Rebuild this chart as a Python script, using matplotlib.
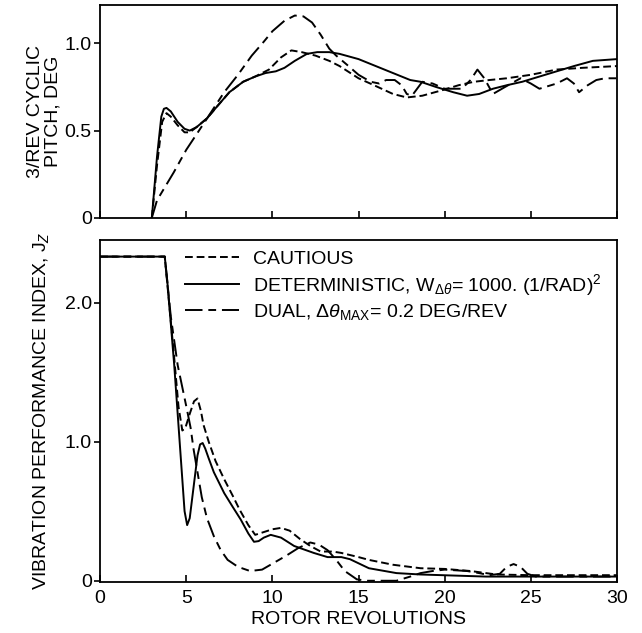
import matplotlib
matplotlib.use("Agg")
import matplotlib.pyplot as plt

plt.rcParams['font.family'] = ['Liberation Sans', 'DejaVu Sans']
plt.rcParams['mathtext.fontset'] = 'custom'
plt.rcParams['mathtext.rm'] = 'Liberation Sans'
plt.rcParams['mathtext.it'] = 'Liberation Sans:italic'

# ---- top panel: 3/rev cyclic pitch, deg ----
pitch_caut_x = [3.0, 3.3, 3.6, 3.85, 4.1, 4.5, 4.9, 5.2, 5.6, 6.2, 6.8, 7.5, 8.3, 9.0, 9.8,
                10.5, 11.1, 11.7, 12.5, 13.3, 13.9, 15.0, 15.9, 17.0, 17.8, 18.7, 19.8, 20.8,
                21.7, 22.6, 23.6, 25.0, 26.5, 28.0, 30.0]
pitch_caut_y = [0, 0.30, 0.55, 0.60, 0.58, 0.53, 0.49, 0.49, 0.52, 0.57, 0.64, 0.72, 0.78,
                0.81, 0.85, 0.92, 0.96, 0.95, 0.93, 0.90, 0.87, 0.80, 0.76, 0.71, 0.69, 0.70,
                0.73, 0.76, 0.78, 0.79, 0.80, 0.82, 0.85, 0.86, 0.87]

pitch_det_x = [3.0, 3.3, 3.55, 3.7, 3.85, 4.1, 4.5, 4.9, 5.2, 5.6, 6.2, 6.8, 7.5, 8.3, 9.0,
               9.6, 10.2, 10.7, 11.3, 12.0, 12.6, 13.3, 13.9, 15.0, 16.0, 17.0, 18.0, 18.6,
               19.5, 20.5, 21.3, 22.0, 22.8, 23.6, 24.5, 25.5, 26.5, 27.5, 28.6, 30.0]
pitch_det_y = [0, 0.35, 0.58, 0.625, 0.63, 0.61, 0.55, 0.51, 0.50, 0.52, 0.57, 0.64, 0.72,
               0.78, 0.81, 0.83, 0.84, 0.86, 0.90, 0.94, 0.95, 0.95, 0.94, 0.91, 0.87, 0.83,
               0.79, 0.78, 0.75, 0.72, 0.70, 0.71, 0.74, 0.76, 0.78, 0.81, 0.84, 0.87, 0.90,
               0.91]

pitch_dual_x = [3.0, 3.3, 4.27, 5.0, 5.94, 7.2, 8.0, 8.8, 9.5, 10.0, 10.7, 11.3, 11.8, 12.3,
                12.8, 13.3, 13.7, 14.3, 15.0, 15.7, 16.2, 16.6, 17.1, 17.5, 17.8, 18.1, 18.4,
                18.7, 19.3, 20.0, 21.0, 21.5, 21.9, 22.3, 22.8, 23.5, 24.4, 25.0, 25.5, 26.5,
                27.1, 27.5, 27.8, 28.3, 28.8, 29.3, 30.0]
pitch_dual_y = [0, 0.10, 0.26, 0.39, 0.53, 0.72, 0.82, 0.93, 1.01, 1.07, 1.13, 1.16, 1.155,
                1.12, 1.05, 0.97, 0.93, 0.88, 0.82, 0.78, 0.77, 0.79, 0.79, 0.76, 0.71, 0.70,
                0.74, 0.78, 0.77, 0.74, 0.74, 0.79, 0.85, 0.80, 0.71, 0.75, 0.80, 0.77, 0.74,
                0.77, 0.80, 0.77, 0.72, 0.76, 0.79, 0.80, 0.80]

# ---- bottom panel: vibration performance index Jz ----
jz_caut_x = [0, 3.75, 4.0, 4.3, 4.55, 4.77, 4.95, 5.2, 5.45, 5.65, 5.85, 6.0, 6.3, 6.7, 7.2,
             7.7, 8.1, 8.6, 9.0, 9.5, 10.0, 10.5, 11.0, 11.6, 12.2, 12.8, 13.5, 14.0, 15.0,
             15.6, 17.0, 18.6, 20.0, 21.5, 23.0, 25.0, 30.0]
jz_caut_y = [2.33, 2.33, 2.0, 1.6, 1.25, 1.08, 1.10, 1.20, 1.29, 1.31, 1.22, 1.12, 1.0, 0.86,
             0.73, 0.61, 0.51, 0.40, 0.33, 0.35, 0.37, 0.38, 0.36, 0.30, 0.25, 0.21, 0.21,
             0.20, 0.17, 0.15, 0.115, 0.09, 0.085, 0.07, 0.045, 0.04, 0.04]

jz_det_x = [0, 3.75, 3.9, 4.1, 4.3, 4.5, 4.7, 4.9, 5.05, 5.2, 5.43, 5.65, 5.8, 5.95, 6.1,
            6.3, 6.6, 7.2, 7.7, 8.16, 8.6, 8.93, 9.2, 9.5, 9.9, 10.5, 11.26, 12.4, 13.2,
            14.0, 14.5, 15.6, 17.2, 18.6, 22.4, 30.0]
jz_det_y = [2.33, 2.33, 2.15, 1.85, 1.55, 1.2, 0.85, 0.5, 0.40, 0.45, 0.68, 0.90, 0.98,
            0.99, 0.95, 0.88, 0.78, 0.63, 0.53, 0.44, 0.34, 0.28, 0.285, 0.31, 0.33, 0.31,
            0.25, 0.20, 0.17, 0.17, 0.155, 0.09, 0.055, 0.045, 0.03, 0.03]

jz_dual_x = [0, 3.75, 4.1, 4.5, 5.04, 5.25, 5.43, 5.9, 6.2, 6.6, 7.0, 7.4, 8.0, 8.7, 9.4,
             10.1, 10.8, 11.5, 12.2, 12.7, 13.2, 13.7, 14.2, 14.9, 15.5, 17.2, 18.0, 18.6,
             19.3, 20.0, 21.3, 22.0, 22.6, 23.2, 23.6, 24.0, 24.4, 24.8, 25.3, 30.0]
jz_dual_y = [2.33, 2.33, 1.9, 1.55, 1.23, 1.10, 0.94, 0.60, 0.45, 0.32, 0.22, 0.15, 0.10,
             0.07, 0.08, 0.13, 0.18, 0.235, 0.275, 0.26, 0.22, 0.15, 0.07, 0.01, 0.0, 0.0,
             0.03, 0.055, 0.07, 0.08, 0.07, 0.055, 0.04, 0.05, 0.10, 0.12, 0.10, 0.05, 0.03,
             0.03]

labels = ['CAUTIOUS',
          r'DETERMINISTIC, W$_{\Delta\theta}$= 1000. (1/RAD)$^2$',
          r'DUAL, $\Delta\it{\theta}_{\rm MAX}$= 0.2 DEG/REV']

caut_ls = (0, (4, 2))
dual_ls = (0, (9, 3, 4, 3))
lw = 1.4
fs = 14

fig = plt.figure(figsize=(6.42, 6.33), dpi=100)
ax1 = fig.add_axes([0.156, 0.656, 0.805, 0.336])
ax2 = fig.add_axes([0.156, 0.081, 0.805, 0.540])

ax1.plot(pitch_caut_x, pitch_caut_y, color='k', lw=lw, ls=caut_ls)
ax1.plot(pitch_det_x, pitch_det_y, color='k', lw=lw, ls='-')
ax1.plot(pitch_dual_x, pitch_dual_y, color='k', lw=lw, ls=dual_ls)
ax1.set_xlim(0, 30)
ax1.set_ylim(0, 1.22)
ax1.set_yticks([0, 0.5, 1.0])
ax1.set_yticklabels(['0', '0.5', '1.0'])
ax1.set_xticks(range(0, 31, 5))
ax1.set_xticklabels([])
ax1.set_ylabel('3/REV CYCLIC\nPITCH, DEG', fontsize=fs, linespacing=1.05)

ax2.plot(jz_caut_x, jz_caut_y, color='k', lw=lw, ls=caut_ls, label=labels[0])
ax2.plot(jz_det_x, jz_det_y, color='k', lw=lw, ls='-', label=labels[1])
ax2.plot(jz_dual_x, jz_dual_y, color='k', lw=lw, ls=dual_ls, label=labels[2])
ax2.set_xlim(0, 30)
ax2.set_ylim(-0.007, 2.45)
ax2.set_yticks([0, 1.0, 2.0])
ax2.set_yticklabels(['0', '1.0', '2.0'])
ax2.set_xticks(range(0, 31, 5))
ax2.set_xlabel('ROTOR REVOLUTIONS', fontsize=fs, labelpad=3)
ax2.set_ylabel('VIBRATION PERFORMANCE INDEX, J$_Z$', fontsize=fs)
ax2.legend(loc='upper left', bbox_to_anchor=(0.13, 1.02), frameon=False, fontsize=fs,
           handlelength=2.8, handletextpad=0.7, labelspacing=0.2)

for ax in (ax1, ax2):
    ax.tick_params(axis='x', direction='in', length=5, width=1.2, labelsize=fs, pad=6)
    ax.tick_params(axis='y', direction='out', length=4, width=1.2, labelsize=fs, pad=2)
    for s in ax.spines.values():
        s.set_linewidth(1.3)
ax1.yaxis.set_label_coords(-0.075, 0.5)
ax2.yaxis.set_label_coords(-0.095, 0.5)

fig.savefig('out.png', dpi=100)
